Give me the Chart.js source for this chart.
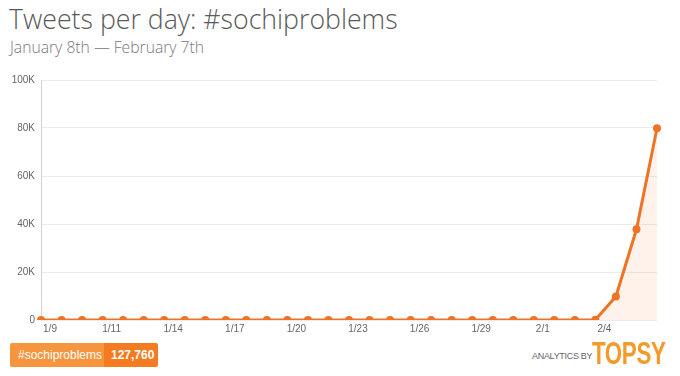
<!DOCTYPE html>
<html>
<head>
<meta charset="utf-8">
<script src="https://cdn.jsdelivr.net/npm/chart.js@4/dist/chart.umd.min.js"></script>
<style>
  html, body { margin: 0; padding: 0; background: #fff; width: 680px; height: 376px; overflow: hidden; }
  #title { position: absolute; left: 9px; top: 0px; font-family: "Open Sans", sans-serif; font-weight: 300; font-size: 26.7px; color: #5a5a5a; white-space: nowrap; }
  #sub { position: absolute; left: 10px; top: 36px; font-family: "Open Sans", sans-serif; font-weight: 300; font-size: 15.7px; color: #777; white-space: nowrap; }
  #wrap { position: absolute; left: 0; top: 68px; width: 680px; height: 272px; }
  #legend { position: absolute; left: 10px; top: 343px; height: 24px; display: flex; font-family: "Liberation Sans", Arial, sans-serif; font-size: 12px; color: #fff; border-radius: 2px; overflow: hidden; }
  #legend .a { background: #F7953F; padding: 0 8px 0 8px; line-height: 24px; width: 78px; }
  #legend .b { background: #F47B20; padding: 0 6px 0 7px; line-height: 24px; font-weight: bold; width: 41px; }
  #s { position: absolute; left: 532px; top: 351px; font-family: "Liberation Sans", Arial, sans-serif; font-size: 9px; color: #666; letter-spacing: -0.3px; white-space: nowrap; }
  #t { position: absolute; left: 592px; top: 336px; font-family: "Liberation Sans", Arial, sans-serif; font-size: 31px; font-weight: bold; color: #F39A2B; letter-spacing: -0.5px; white-space: nowrap; transform: scaleX(0.72); transform-origin: 0 0; }
</style>
</head>
<body>
<div id="title">Tweets per day: #sochiproblems</div>
<div id="sub">January 8th — February 7th</div>
<div id="wrap"><canvas id="c" width="680" height="272"></canvas></div>
<div id="legend"><div class="a">#sochiproblems</div><div class="b">127,760</div></div>
<div id="s">ANALYTICS BY</div>
<div id="t">TOPSY</div>
<script>
const dates = ["1/8","1/9","1/10","1/11","1/12","1/13","1/14","1/15","1/16","1/17","1/18","1/19","1/20","1/21","1/22","1/23","1/24","1/25","1/26","1/27","1/28","1/29","1/30","1/31","2/1","2/2","2/3","2/4","2/5","2/6","2/7"];
const tweets = [5,4,6,5,4,5,6,5,4,5,6,5,4,5,6,5,4,5,6,5,4,5,6,5,4,5,6,120,9800,37800,79900];
const tickLabels = ["1/9","","","1/11","","","1/14","","","1/17","","","1/20","","","1/23","","","1/26","","","1/29","","","2/1","","","2/4","","",""];
const yTicks = [0,20000,40000,60000,80000,100000];
const yTickLabels = ["0","20K","40K","60K","80K","100K"];

new Chart(document.getElementById('c'), {
  type: 'line',
  data: {
    labels: dates,
    datasets: [{
      data: tweets,
      borderColor: '#EE7424',
      backgroundColor: 'rgba(243,130,60,0.1)',
      fill: 'origin',
      borderWidth: 3,
      pointRadius: 4,
      pointBackgroundColor: '#EE7424',
      pointBorderColor: '#EE7424',
      pointBorderWidth: 0,
      tension: 0
    }]
  },
  options: {
    responsive: false,
    animation: false,
    events: [],
    layout: { padding: { left: 0, right: 23, top: 0, bottom: 0 } },
    plugins: { legend: { display: false }, tooltip: { enabled: false } },
    scales: {
      x: {
        offset: false,
        grid: { display: false, drawTicks: false },
        border: { display: false },
        afterFit: s => { s.height = 20; },
        ticks: {
          autoSkip: false, maxRotation: 0, minRotation: 0, padding: 3,
          labelOffset: 9,
          color: '#666',
          font: { family: '"Liberation Sans", Arial, sans-serif', size: 10 },
          callback: (v, i) => tickLabels[i]
        }
      },
      y: {
        min: 0, max: 100000,
        afterFit: s => { s.width = 41; },
        afterBuildTicks: s => { s.ticks = yTicks.map(v => ({ value: v })); },
        grid: { color: '#ebebeb', drawTicks: false, lineWidth: 1 },
        border: { display: true, color: '#cfcfcf' },
        ticks: {
          padding: 6,
          color: '#666',
          font: { family: '"Liberation Sans", Arial, sans-serif', size: 10 },
          callback: (v) => yTickLabels[yTicks.indexOf(v)]
        }
      }
    }
  }
});
</script>
</body>
</html>
